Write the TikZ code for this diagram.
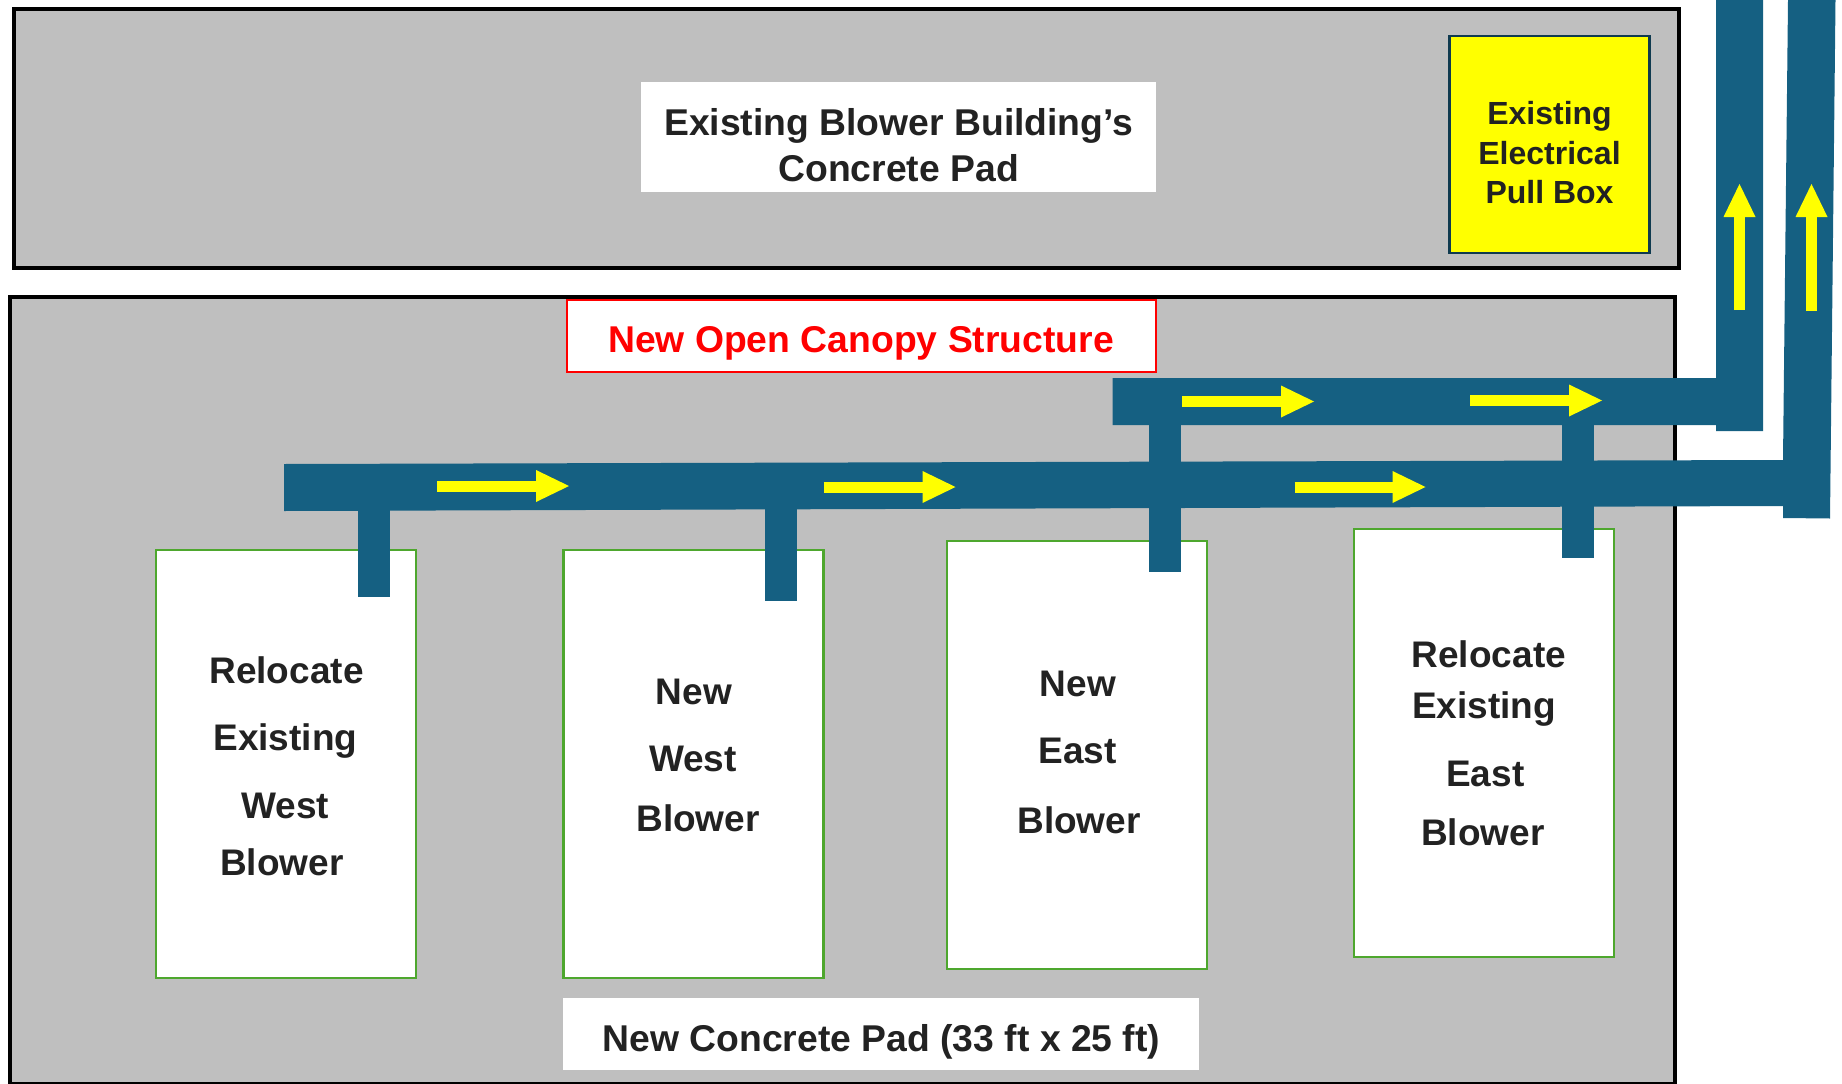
\documentclass[tikz,border=0pt]{standalone}
\usepackage{fontspec}
\setmainfont{Liberation Sans}
\usetikzlibrary{arrows.meta}
\definecolor{padgray}{HTML}{BFBFBF}
\definecolor{pipeblue}{HTML}{156082}
\definecolor{flowyellow}{HTML}{FFFF00}
\definecolor{boxgreen}{HTML}{4EA72E}
\definecolor{inkdark}{HTML}{222222}
\definecolor{pullborder}{HTML}{0F3A4F}
\tikzset{
  plainbox/.style={rectangle,inner sep=0pt,outer sep=0pt},
  padbox/.style={plainbox,fill=padgray,draw=black,line width=4pt},
  blowerbox/.style={plainbox,fill=white,draw=boxgreen,line width=2.8pt,minimum width=260pt},
  pipe/.style={fill=pipeblue},
  flow/.style={draw=flowyellow,line width=11pt,-{Triangle[length=33pt,width=32pt,line width=0pt,fill=flowyellow]}},
  biglabel/.style={inner sep=0pt,align=center,text=inkdark,font=\fontsize{37}{46}\selectfont\bfseries},
  widelabel/.style={font=\fontsize{37.3}{46}\selectfont\bfseries},
  smalllabel/.style={inner sep=0pt,align=center,text=inkdark,font=\fontsize{32}{39.5}\selectfont\bfseries},
}
\begin{document}
\begin{tikzpicture}[x=1pt,y=-1pt]
\useasboundingbox (0,0) rectangle (1842,1084);
% concrete pads
\node[padbox,minimum width=1665pt,minimum height=259pt] (oldpad) at (846.5,138.5) {};
\node[padbox,minimum width=1665pt,minimum height=787pt] (newpad) at (842.5,690.5) {};
% plain labels on the pads
\node[plainbox,fill=white,minimum width=515pt,minimum height=110pt] (oldbg) at (898.5,137.3) {};
\node[biglabel,widelabel] (oldtxt) at (898.7,145) {Existing Blower Building’s\\Concrete Pad};
\node[plainbox,fill=white,draw=red,line width=2pt,minimum width=589pt,minimum height=72pt,text=red,widelabel,text height=41pt,text depth=8pt] (canopy) at (861,336) {New Open Canopy Structure};
\node[plainbox,fill=white,minimum width=636pt,minimum height=72pt,text=inkdark,widelabel,text height=43pt,text depth=8pt] (padlabel) at (880.5,1034) {\hspace*{2pt}New Concrete Pad (33 ft x 25 ft)};
% pull box
\node[plainbox,fill=flowyellow,draw=pullborder,line width=2.2pt,minimum width=200pt,minimum height=217pt] (pull) at (1549.5,144.5) {};
\node[smalllabel] (pulltxt) at (1549.5,153) {Existing\\Electrical\\Pull Box};
% blower boxes
\node[blowerbox,minimum height=428pt] (b1) at (286,764) {};
\node[blowerbox,minimum height=428pt] (b2) at (693.6,764) {};
\node[blowerbox,minimum height=428pt] (b3) at (1077,755) {};
\node[blowerbox,minimum height=428pt] (b4) at (1484,743) {};
% blower labels
\node[biglabel] (t1) at (286.5,766.5) {Relocate\\[21pt]\hspace*{-2.4pt}Existing\\[22pt]\hspace*{-2.4pt}West\\[11.5pt]\hspace*{-9.4pt}Blower};
\node[biglabel] (t2) at (698,755.5) {\hspace*{-8pt}New\\[21pt]\hspace*{-10pt}West\\[14pt]Blower};
\node[biglabel] (t3) at (1079,752.5) {\hspace*{-2.4pt}New\\[21pt]\hspace*{-2.4pt}East\\[23.5pt]Blower};
\node[biglabel] (t4) at (1488.8,743) {Relocate\\[4.6pt]\hspace*{-9.4pt}Existing\\[22pt]\hspace*{-7pt}East\\[13pt]\hspace*{-11.8pt}Blower};
% pipe runs
\fill[pipe] (284,464) -- (1783,460) -- (1788,0) -- (1835.5,0) -- (1830,518.5) -- (1783,518) -- (1783,506) -- (284,511) -- cycle;
\fill[pipe] (1112.5,378) -- (1716,378) -- (1716,0) -- (1763,0) -- (1763,431) -- (1716,431) -- (1716,425) -- (1112.5,425) -- cycle;
% branch stubs
\fill[pipe] (358,505) rectangle (390,596.6);
\fill[pipe] (764.5,505) rectangle (796.5,600.5);
\fill[pipe] (1148.5,420) rectangle (1180.5,572);
\fill[pipe] (1561.5,420) rectangle (1593.5,558);
% flow arrows
\coordinate (a1s) at (437,486); \coordinate (a1e) at (569,486);
\coordinate (a2s) at (823.5,487); \coordinate (a2e) at (955.5,487);
\coordinate (a3s) at (1294.5,487); \coordinate (a3e) at (1425.5,487);
\coordinate (a4s) at (1182,401.5); \coordinate (a4e) at (1314,401.5);
\coordinate (a5s) at (1470,400.5); \coordinate (a5e) at (1602,400.5);
\coordinate (a6s) at (1739.5,310); \coordinate (a6e) at (1739.5,184);
\coordinate (a7s) at (1811.5,311); \coordinate (a7e) at (1811.5,184);
\draw[flow] (a1s) -- (a1e);
\draw[flow] (a2s) -- (a2e);
\draw[flow] (a3s) -- (a3e);
\draw[flow] (a4s) -- (a4e);
\draw[flow] (a5s) -- (a5e);
\draw[flow] (a6s) -- (a6e);
\draw[flow] (a7s) -- (a7e);
\end{tikzpicture}
\end{document}
